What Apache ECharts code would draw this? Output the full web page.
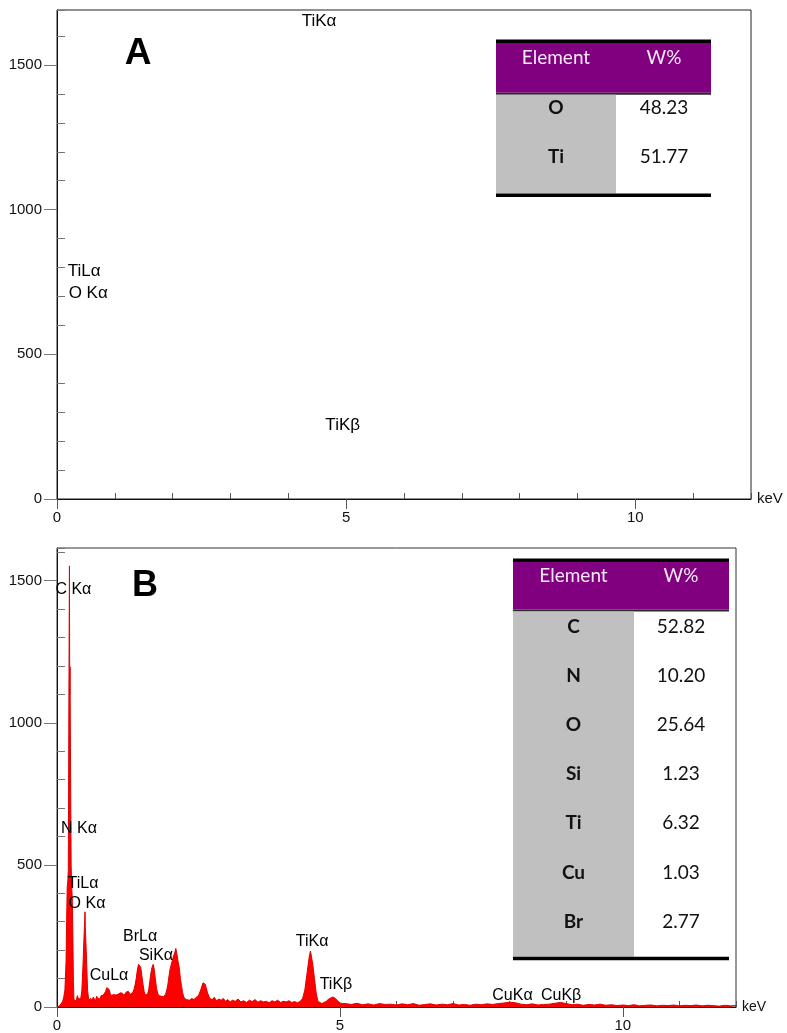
<!DOCTYPE html>
<html>
<head>
<meta charset="utf-8">
<script src="https://cdn.jsdelivr.net/npm/echarts@6/dist/echarts.min.js"></script>
<style>
    body { margin: 0; background: #fff; }
    #main { width: 787px; height: 1033px; }
</style>
</head>
<body>
<div id="main"></div>
<script>
// 能谱 B 数据 (keV, counts)
let specEnergy = [
    0.00, 0.05, 0.08, 0.10, 0.12, 0.14, 0.16, 0.17, 0.18, 0.19, 0.20, 0.21, 0.22, 0.225, 0.23, 0.24, 0.25, 0.26, 0.27, 0.28, 0.29,
    0.30, 0.32, 0.34, 0.36, 0.38, 0.40, 0.42, 0.44, 0.46, 0.48, 0.495, 0.50, 0.52, 0.54, 0.56, 0.58,
    0.60, 0.62, 0.64, 0.66, 0.68, 0.70, 0.72, 0.74, 0.76, 0.78, 0.80, 0.82, 0.84, 0.86, 0.88, 0.90, 0.92, 0.94, 0.96, 0.98,
    1.00, 1.02, 1.04, 1.06, 1.08, 1.10, 1.12, 1.14, 1.16, 1.18, 1.20, 1.22, 1.24, 1.26, 1.28, 1.30, 1.32, 1.34, 1.36, 1.38,
    1.40, 1.42, 1.44, 1.46, 1.48, 1.50, 1.52, 1.54, 1.56, 1.58, 1.60, 1.62, 1.64, 1.66, 1.68, 1.70, 1.72, 1.74, 1.76, 1.78,
    1.80, 1.82, 1.84, 1.86, 1.88, 1.90, 1.92, 1.94, 1.96, 1.98, 2.00, 2.02, 2.04, 2.06, 2.08, 2.10, 2.12, 2.14, 2.16, 2.18,
    2.20, 2.22, 2.24, 2.26, 2.28, 2.30, 2.34, 2.38, 2.42, 2.46, 2.50, 2.54, 2.58, 2.60, 2.62, 2.66, 2.70, 2.74, 2.78, 2.82,
    2.86, 2.90, 2.94, 2.98, 3.02, 3.06, 3.10, 3.15, 3.20, 3.25, 3.30, 3.35, 3.40, 3.45, 3.50, 3.55, 3.60, 3.65, 3.70, 3.75,
    3.80, 3.85, 3.90, 3.95, 4.00, 4.05, 4.10, 4.15, 4.20, 4.25, 4.30, 4.34, 4.38, 4.42, 4.46, 4.48, 4.50, 4.52, 4.55, 4.58,
    4.61, 4.64, 4.68, 4.72, 4.76, 4.80, 4.84, 4.88, 4.92, 4.96, 5.00, 5.05,
    5.1, 5.2, 5.3, 5.4, 5.5, 5.6, 5.7, 5.8, 5.9, 6.0, 6.1, 6.2, 6.3, 6.4, 6.5, 6.6, 6.7, 6.8, 6.9, 7.0,
    7.1, 7.2, 7.3, 7.4, 7.5, 7.6, 7.7, 7.8, 7.9, 8.0, 8.1, 8.2, 8.3, 8.4, 8.5, 8.6, 8.7, 8.8, 8.9, 9.0,
    9.1, 9.2, 9.3, 9.4, 9.5, 9.6, 9.7, 9.8, 9.9, 10.0, 10.1, 10.2, 10.3, 10.4, 10.5, 10.6, 10.7, 10.8, 10.9, 11.0,
    11.1, 11.2, 11.3, 11.4, 11.5, 11.6, 11.7, 11.8, 11.9, 12.0
];
let specCounts = [
    0, 5, 12, 20, 35, 60, 160, 300, 420, 440, 480, 1080, 1552, 1100, 1197, 820, 500, 420, 380, 260, 90,
    25, 30, 22, 40, 28, 35, 30, 60, 150, 260, 335, 283, 180, 60, 25, 18,
    30, 20, 35, 28, 22, 38, 30, 34, 28, 40, 36, 42, 45, 55, 68, 73, 62, 48, 40, 36,
    44, 38, 42, 36, 45, 40, 50, 44, 48, 40, 46, 52, 48, 55, 50, 44, 48, 52, 62, 78,
    100, 130, 150, 154, 140, 110, 80, 55, 42, 38, 45, 60, 90, 120, 140, 150, 130, 95, 65, 48,
    40, 35, 38, 32, 36, 40, 45, 60, 80, 110, 135, 150, 165, 180, 190, 206, 185, 160, 140, 100,
    75, 50, 35, 30, 26, 32, 24, 30, 26, 34, 40, 60, 85, 91, 80, 50, 30, 26, 34, 22,
    28, 24, 30, 20, 26, 18, 24, 20, 28, 18, 22, 16, 24, 19, 26, 17, 22, 18, 20, 15,
    22, 18, 24, 16, 20, 18, 22, 16, 19, 15, 20, 30, 60, 120, 180, 197, 190, 150, 100, 50,
    20, 15, 12, 16, 20, 28, 32, 35, 30, 22, 14, 12,
    12, 9, 13, 8, 11, 7, 12, 9, 10, 7, 11, 8, 12, 6, 9, 11, 7, 10, 8, 12,
    7, 9, 6, 10, 8, 11, 9, 12, 14, 17, 15, 10, 8, 11, 7, 9, 10, 13, 16, 12,
    8, 10, 6, 9, 7, 10, 6, 8, 5, 7, 5, 8, 4, 6, 7, 4, 6, 5, 7, 4,
    6, 5, 7, 4, 6, 5, 3, 6, 4, 5
];

// 峰标注 [keV, counts, 文本]
let peakLabelsA = [
    [4.53, 1650, 'TiKα'],
    [0.47, 786, 'TiLα'],
    [0.54, 711, 'O Kα'],
    [4.94, 254, 'TiKβ']
];
let peakLabelsB = [
    [0.29, 1470, 'C Kα'],
    [0.39, 629, 'N Kα'],
    [0.46, 434, 'TiLα'],
    [0.53, 364, 'O Kα'],
    [0.92, 112, 'CuLα'],
    [1.47, 248, 'BrLα'],
    [1.75, 180, 'SiKα'],
    [4.51, 229, 'TiKα'],
    [4.93, 80, 'TiKβ'],
    [8.05, 40, 'CuKα'],
    [8.91, 40, 'CuKβ']
];

// 表格数据
let tableHead = ['Element', 'W%'];
let tableAElem = ['O', 'Ti'];
let tableAWt = ['48.23', '51.77'];
let tableBElem = ['C', 'N', 'O', 'Si', 'Ti', 'Cu', 'Br'];
let tableBWt = ['52.82', '10.20', '25.64', '1.23', '6.32', '1.03', '2.77'];

// 刻度
let xMajor = [0, 5, 10];
let xMinor = [1, 2, 3, 4, 6, 7, 8, 9, 11, 12];
let yMajor = [0, 500, 1000, 1500];
let yMinor = [100, 200, 300, 400, 600, 700, 800, 900, 1100, 1200, 1300, 1400, 1600];
let yMaxA = 1690, yMaxB = 1615;

const axisFont = 'Liberation Sans, Arial, sans-serif';
const tableFont = 'Lato, Noto Sans, sans-serif';

function xAxes(grid, nameSize) {
    return [
        {
            type: 'value', gridIndex: grid, min: 0, max: 12,
            axisLine: {lineStyle: {color: '#111', width: 1}},
            axisTick: {customValues: xMajor, length: 10, lineStyle: {color: '#555'}},
            axisLabel: {customValues: xMajor, margin: 11, color: '#111', fontSize: 15, fontFamily: axisFont, formatter: v => String(v)},
            splitLine: {show: false},
            name: 'keV', nameLocation: 'end', nameGap: 6,
            nameTextStyle: {color: '#111', fontSize: nameSize, fontFamily: axisFont, padding: [0, 0, grid === 0 ? 6 : 16, 0]}
        },
        {
            type: 'value', gridIndex: grid, min: 0, max: 12,
            axisLine: {show: false},
            axisTick: {customValues: xMinor, length: 6, lineStyle: {color: '#555'}},
            axisLabel: {show: false},
            splitLine: {show: false}
        }
    ];
}

function yAxes(grid, max) {
    return [
        {
            type: 'value', gridIndex: grid, min: 0, max: max,
            axisLine: {show: true, lineStyle: {color: '#111', width: 1}},
            axisTick: {customValues: yMajor, length: 13, lineStyle: {color: '#777'}},
            axisLabel: {customValues: yMajor, margin: 15, color: '#111', fontSize: 15, fontFamily: axisFont, formatter: v => String(v)},
            splitLine: {show: false}
        },
        {
            type: 'value', gridIndex: grid, min: 0, max: max,
            axisLine: {show: false},
            axisTick: {customValues: yMinor.concat([max]), length: 8, lineStyle: {color: '#777'}},
            axisLabel: {show: false},
            splitLine: {show: false}
        }
    ];
}

function labelSeries(list, xi, yi, size) {
    return {
        type: 'scatter', xAxisIndex: xi, yAxisIndex: yi, symbolSize: 0, silent: true,
        itemStyle: {opacity: 1},
        data: list.map(d => ({value: [d[0], d[1]], name: d[2]})),
        label: {
            show: true, position: 'inside', formatter: p => p.name,
            color: '#000', fontSize: size, fontFamily: axisFont, align: 'center', verticalAlign: 'middle'
        },
        z: 5
    };
}

// 表格图形
function tableGraphic(t, elems, vals) {
    let els = [];
    let w = t.right - t.left;
    els.push({type: 'rect', shape: {x: t.left, y: t.top - 3.5, width: w, height: 3.5}, style: {fill: '#000'}});
    els.push({type: 'rect', shape: {x: t.left, y: t.top, width: w, height: t.headH}, style: {fill: '#800080'}});
    let bodyTop = t.top + t.headH + 2;
    els.push({type: 'rect', shape: {x: t.left, y: t.top + t.headH, width: w, height: 2}, style: {fill: '#2a2a2a'}});
    els.push({type: 'rect', shape: {x: t.left, y: bodyTop, width: t.split - t.left, height: t.bottom - bodyTop}, style: {fill: '#c0c0c0'}});
    els.push({type: 'rect', shape: {x: t.left, y: t.bottom, width: w, height: 3.5}, style: {fill: '#000'}});
    let c1 = (t.left + t.split) / 2, c2 = t.valX;
    els.push({type: 'text', x: c1, y: t.top + t.headTextDy, style: {text: tableHead[0], fill: '#f4eaf4', font: '19px ' + tableFont, align: 'center', verticalAlign: 'middle'}});
    els.push({type: 'text', x: c2, y: t.top + t.headTextDy, style: {text: tableHead[1], fill: '#f4eaf4', font: '19px ' + tableFont, align: 'center', verticalAlign: 'middle'}});
    for (let i = 0; i < elems.length; i++) {
        let y = bodyTop + t.rowDy + i * t.rowH;
        els.push({type: 'text', x: c1, y: y, style: {text: elems[i], fill: '#111', font: 'bold 19px ' + tableFont, align: 'center', verticalAlign: 'middle'}});
        els.push({type: 'text', x: c2, y: y, style: {text: vals[i], fill: '#111', font: '19px ' + tableFont, align: 'center', verticalAlign: 'middle'}});
    }
    return els;
}

let myChart = echarts.init(document.getElementById('main'), null, {renderer: 'canvas'});

let graphics = []
    .concat(tableGraphic({left: 496, right: 711, split: 616, valX: 664, top: 43, headH: 49.7, headTextDy: 15, bottom: 193.5, rowDy: 13, rowH: 49}, tableAElem, tableAWt))
    .concat(tableGraphic({left: 513, right: 729, split: 634, valX: 681, top: 562, headH: 47.5, headTextDy: 14, bottom: 956.7, rowDy: 15, rowH: 49.2}, tableBElem, tableBWt))
    .concat([
        {type: 'text', x: 138, y: 54, style: {text: 'A', fill: '#000', font: 'bold 37px ' + axisFont, align: 'center', verticalAlign: 'middle'}},
        {type: 'text', x: 145, y: 586, style: {text: 'B', fill: '#000', font: 'bold 36px ' + axisFont, align: 'center', verticalAlign: 'middle'}}
    ]);

let option = {
    backgroundColor: '#fff',
    animation: false,
    grid: [
        {left: 57, top: 10, right: 36, bottom: 534, show: true, borderColor: '#222', borderWidth: 1, backgroundColor: 'transparent'},
        {left: 57, top: 548, right: 51, bottom: 24, show: true, borderColor: '#333', borderWidth: 1, backgroundColor: 'transparent'}
    ],
    xAxis: xAxes(0, 15).concat(xAxes(1, 14)),
    yAxis: yAxes(0, yMaxA).concat(yAxes(1, yMaxB)),
    series: [
        {
            type: 'line', xAxisIndex: 2, yAxisIndex: 2, symbol: 'none', silent: true,
            data: specEnergy.map((e, i) => [e, specCounts[i]]),
            lineStyle: {color: '#e00000', width: 1},
            areaStyle: {color: '#ff0000', opacity: 1},
            z: 2
        },
        labelSeries(peakLabelsA, 0, 0, 17),
        labelSeries(peakLabelsB, 2, 2, 16)
    ],
    graphic: graphics
};
myChart.setOption(option);
</script>
</body>
</html>
